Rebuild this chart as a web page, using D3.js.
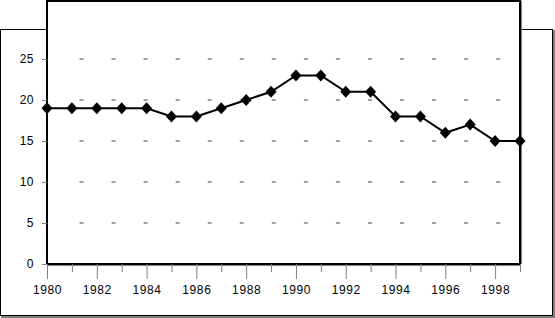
<!DOCTYPE html>
<html><head><meta charset="utf-8">
<script src="https://cdn.jsdelivr.net/npm/d3@7"></script>
<style>html,body{margin:0;padding:0;background:#fff;}svg{display:block;}</style>
</head><body>
<svg id="c" width="555" height="318"></svg>
<script>
const years = [1980,1981,1982,1983,1984,1985,1986,1987,1988,1989,1990,1991,1992,1993,1994,1995,1996,1997,1998,1999];
const values = [19,19,19,19,19,18,18,19,20,21,23,23,21,21,18,18,16,17,15,15];
const yTicks = [0,5,10,15,20,25];
const xLabelYears = [1980,1982,1984,1986,1988,1990,1992,1994,1996,1998];

const svg = d3.select("#c");
const font = "'Liberation Sans', Arial, sans-serif";
const L = 47, R = 520, T = 1, B = 264;
const x = d3.scaleLinear().domain([1980,1999]).range([L,R]);
const y = d3.scaleLinear().domain([0,25]).range([B,59]);

// outer chart box
svg.append("rect").attr("x",0.5).attr("y",29.5).attr("width",552).attr("height",286)
  .attr("fill","#fff").attr("stroke","#000").attr("stroke-width",1);
svg.append("line").attr("x1",554).attr("x2",554).attr("y1",30).attr("y2",318).attr("stroke","#808080").attr("stroke-width",2);
svg.append("line").attr("x1",1).attr("x2",555).attr("y1",317).attr("y2",317).attr("stroke","#808080").attr("stroke-width",2);

// plot area
svg.append("rect").attr("x",L).attr("y",T).attr("width",R-L).attr("height",B-T)
  .attr("fill","#fff").attr("stroke","none");
svg.append("line").attr("x1",R+1.5).attr("x2",R+1.5).attr("y1",T).attr("y2",B).attr("stroke","#808080").attr("stroke-width",1);

// gridlines
svg.append("g").selectAll("line").data(yTicks.filter(d=>d>0)).join("line")
  .attr("x1",79.5).attr("x2",R-2).attr("y1",d=>y(d)).attr("y2",d=>y(d))
  .attr("stroke","#808080").attr("stroke-width",1.5).attr("stroke-dasharray","4,28.05");

// frame
svg.append("rect").attr("x",L).attr("y",T).attr("width",R-L).attr("height",B-T)
  .attr("fill","none").attr("stroke","#000").attr("stroke-width",2);
svg.append("line").attr("x1",L).attr("x2",R).attr("y1",B+1.5).attr("y2",B+1.5).attr("stroke","#808080").attr("stroke-width",1);

// y axis
const yAxis = d3.axisLeft(y).tickValues(yTicks).tickSize(5).tickPadding(8);
const gy = svg.append("g").attr("transform",`translate(${L},0)`).call(yAxis);
gy.select(".domain").remove();
gy.selectAll("line").attr("stroke","#808080").attr("stroke-width",1);
gy.selectAll("text").attr("font-family",font).attr("font-size",12).attr("fill","#000").attr("letter-spacing","0.5px");

// x axis
const xAxis = d3.axisBottom(x).tickValues(years).tickSize(8).tickFormat(d=>xLabelYears.includes(d)?d:"").tickPadding(12);
const gx = svg.append("g").attr("transform",`translate(0,${B})`).call(xAxis);
gx.select(".domain").remove();
gx.selectAll(".tick line").attr("stroke","#808080").attr("stroke-width",1)
  .attr("y2",d=>xLabelYears.includes(d)?15:8);
gx.selectAll("text").attr("font-family",font).attr("font-size",12).attr("fill","#000")
  .attr("dy","0.71em").attr("y",21).attr("letter-spacing","0.6px");

// line
const line = d3.line().x((d,i)=>x(years[i])).y(d=>y(d));
svg.append("path").datum(values).attr("d",line).attr("fill","none").attr("stroke","#000").attr("stroke-width",2);

// markers
svg.append("g").selectAll("path").data(values).join("path")
  .attr("d",(d,i)=>{const cx=x(years[i]), cy=y(d); return `M${cx},${cy-6}L${cx+5.5},${cy}L${cx},${cy+6}L${cx-5.5},${cy}Z`;})
  .attr("fill","#000");
</script>
</body></html>
